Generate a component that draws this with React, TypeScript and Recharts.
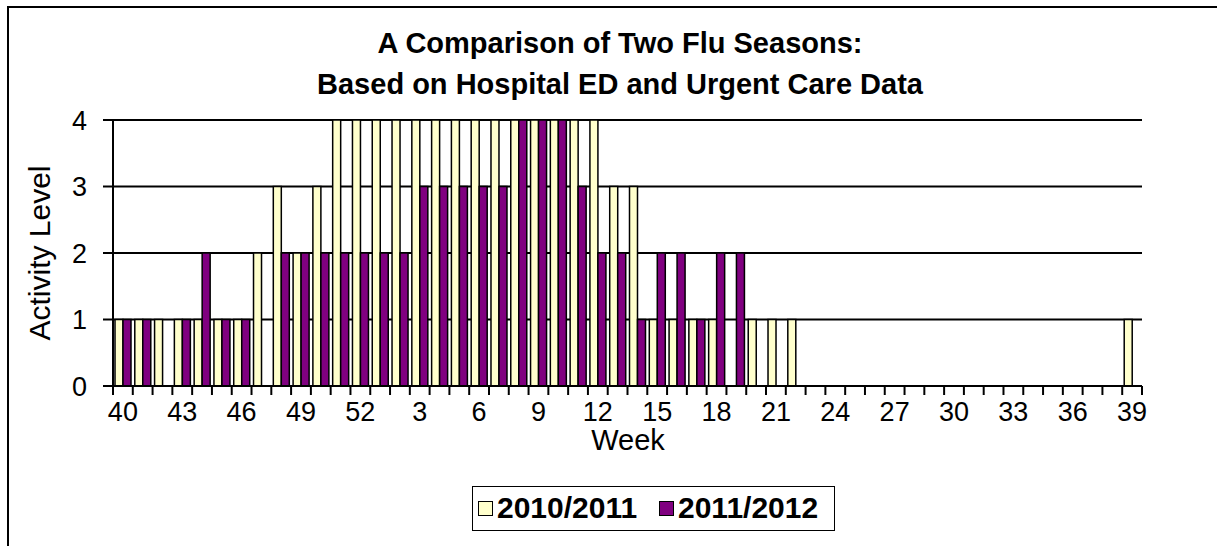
import { Bar, BarChart, CartesianGrid, XAxis, YAxis } from 'recharts';

const weeks = [
  40, 41, 42, 43, 44, 45, 46, 47, 48, 49, 50, 51, 52,
  1, 2, 3, 4, 5, 6, 7, 8, 9, 10, 11, 12, 13, 14, 15, 16, 17, 18, 19, 20,
  21, 22, 23, 24, 25, 26, 27, 28, 29, 30, 31, 32, 33, 34, 35, 36, 37, 38, 39
];
const season1011 = [
  1, 1, 1, 1, 1, 1, 1, 2, 3, 2, 3, 4, 4,
  4, 4, 4, 4, 4, 4, 4, 4, 4, 4, 4, 4, 3, 3, 1, 1, 1, 1, 0, 1,
  1, 1, 0, 0, 0, 0, 0, 0, 0, 0, 0, 0, 0, 0, 0, 0, 0, 0, 1
];
const season1112 = [
  1, 1, 0, 1, 2, 1, 1, 0, 2, 2, 2, 2, 2,
  2, 2, 3, 3, 3, 3, 3, 4, 4, 4, 3, 2, 2, 1, 2, 2, 1, 2, 2, 0,
  0, 0, 0, 0, 0, 0, 0, 0, 0, 0, 0, 0, 0, 0, 0, 0, 0, 0, 0
];
const yTicks = [0, 1, 2, 3, 4];
const seriesNames = ['2010/2011', '2011/2012'];
const colors = ['#FFFFCC', '#800080'];

const data = weeks.map((w, i) => ({ week: String(w), s1: season1011[i], s2: season1112[i] }));

const W = 1217;
const H = 546;
const PLOT_L = 113;
const PLOT_R = 1142;
const PLOT_T = 120;
const PLOT_B = 386;
const BAND = (PLOT_R - PLOT_L) / weeks.length;
const FONT = '"Liberation Sans", Arial, sans-serif';

// tick marks sit on category edges (Excel style), labels every 3rd week
function WeekTick(props: any) {
  const { x, y, payload } = props;
  const idx = payload.index;
  const left = x - BAND / 2;
  return (
    <g>
      <line x1={left} x2={left} y1={y} y2={y + 9} stroke="#000" strokeWidth={2} />
      {idx === weeks.length - 1 && (
        <line x1={left + BAND} x2={left + BAND} y1={y} y2={y + 9} stroke="#000" strokeWidth={2} />
      )}
      {idx % 3 === 0 && (
        <text x={x} y={y + 35} textAnchor="middle" fontSize={27} fill="#000" fontFamily={FONT}>
          {payload.value}
        </text>
      )}
    </g>
  );
}

export default function App() {
  return (
    <div style={{ position: 'fixed', left: 0, top: 0, width: W, height: H, background: '#fff', fontFamily: FONT, overflow: 'hidden' }}>
      <div style={{ position: 'absolute', left: 7, top: 6, width: W, height: H, borderLeft: '2px solid #000', borderTop: '2px solid #000' }} />
      <div style={{ position: 'absolute', left: 0, width: 1240, top: 23, textAlign: 'center', fontWeight: 'bold', fontSize: 29, lineHeight: '41px' }}>
        A Comparison of Two Flu Seasons:
        <br />
        Based on Hospital ED and Urgent Care Data
      </div>
      <BarChart
        width={W}
        height={H}
        data={data}
        margin={{ top: PLOT_T, right: W - PLOT_R, bottom: 100, left: PLOT_L - 40 }}
        barGap={0}
        barSize={8}
        style={{ position: 'absolute', left: 0, top: 0 }}
      >
        <CartesianGrid vertical={false} stroke="#000" strokeWidth={2} />
        <XAxis
          dataKey="week"
          height={H - 100 - PLOT_B}
          interval={0}
          tickSize={0}
          tickMargin={0}
          tickLine={false}
          axisLine={{ stroke: '#000', strokeWidth: 2 }}
          tick={<WeekTick />}
        />
        <YAxis
          width={40}
          domain={[0, 4]}
          ticks={yTicks}
          tickSize={10}
          tickMargin={16}
          tickLine={{ stroke: '#000', strokeWidth: 2 }}
          axisLine={{ stroke: '#000', strokeWidth: 2 }}
          tick={{ fill: '#000', fontSize: 27, fontFamily: FONT }}
        />
        <Bar dataKey="s1" name={seriesNames[0]} fill={colors[0]} stroke="#000" strokeWidth={1.5} isAnimationActive={false} />
        <Bar dataKey="s2" name={seriesNames[1]} fill={colors[1]} stroke="#000" strokeWidth={1.5} isAnimationActive={false} />
      </BarChart>
      <div style={{ position: 'absolute', left: 40, top: 253, transform: 'translate(-50%, -50%) rotate(-90deg)', fontSize: 30, whiteSpace: 'nowrap' }}>
        Activity Level
      </div>
      <div style={{ position: 'absolute', left: 628, top: 440, transform: 'translate(-50%, -50%)', fontSize: 29, lineHeight: '22px' }}>Week</div>
      <div style={{ position: 'absolute', left: 472, top: 486, width: 363, height: 45, border: '1.5px solid #000', boxSizing: 'border-box', fontWeight: 'bold', fontSize: 30 }}>
        {seriesNames.map((n, i) => (
          <div key={n} style={{ position: 'absolute', left: 5 + i * 181, top: 0, height: 42, display: 'flex', alignItems: 'center', gap: 4 }}>
            <span style={{ display: 'inline-block', width: 15, height: 15, boxSizing: 'border-box', background: colors[i], border: '1.5px solid #000' }} />
            <span>{n}</span>
          </div>
        ))}
      </div>
    </div>
  );
}
